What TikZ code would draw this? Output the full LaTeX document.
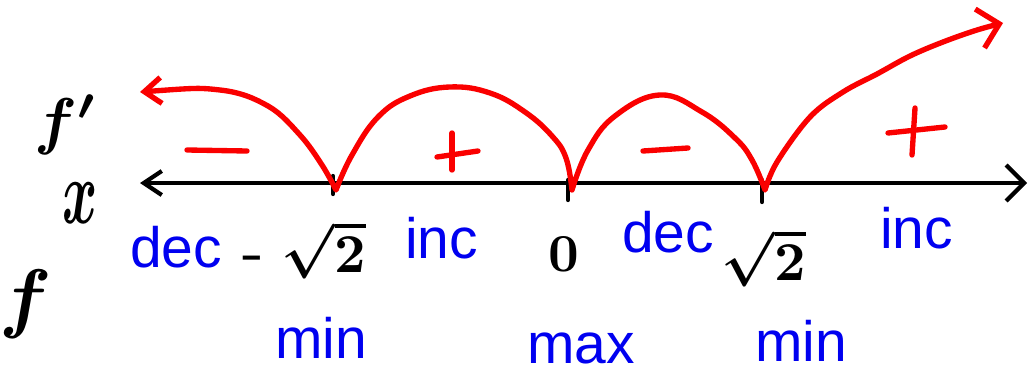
\documentclass[tikz,border=0pt]{standalone}
\usepackage{fontspec}
\setsansfont{Liberation Sans}
\usetikzlibrary{arrows.meta}
\definecolor{pred}{RGB}{250,0,0}
\definecolor{pblue}{RGB}{0,0,240}
\tikzset{
  redline/.style={draw=pred, line width=3.8pt, line cap=round, line join=round},
  axisline/.style={draw=black, line width=3pt, line cap=round, line join=round},
  lbl/.style={text=pblue, font=\sffamily\fontsize{40.5}{48}\selectfont, inner sep=0pt, anchor=base west, text depth=0pt},
  hand/.style={text=black, inner sep=0pt, font=\boldmath\bfseries},
}
\begin{document}
\begin{tikzpicture}[x=0.025cm,y=-0.025cm]
\useasboundingbox (0,0) rectangle (1029,374);
\fill[white] (0,0) rectangle (1029,374);
% axis
\coordinate (L) at (140,183);
\coordinate (R) at (1027,183);
\draw[axisline, {Straight Barb[length=0.45cm,width=0.6cm]}-{Straight Barb[length=0.45cm,width=0.9cm]}] (L) -- (R);
% ticks
\coordinate (t1a) at (333,176); \coordinate (t1b) at (333,194);
\coordinate (t2a) at (568,180); \coordinate (t2b) at (568,200);
\coordinate (t3a) at (762,180); \coordinate (t3b) at (762,202);
\draw[axisline] (t1a) -- (t1b);
\draw[axisline] (t2a) -- (t2b);
\draw[axisline] (t3a) -- (t3b);
% red curve of f'
\draw[redline, {Straight Barb[length=0.42cm,width=0.65cm]}-{Straight Barb[length=0.5cm,width=1.0cm]}]
  plot[smooth, tension=0.6] coordinates {(140,92) (220,90) (268,106) (300,135) (322,165) (336,190)}
  -- plot[smooth, tension=0.7] coordinates {(336,190) (352,155) (378,117) (410,96) (450,87) (490,93) (525,112) (552,136) (566,158) (572,190)}
  -- plot[smooth, tension=0.7] coordinates {(572,190) (588,150) (615,116) (660,95) (702,112) (735,138) (752,160) (765,190)}
  -- plot[smooth, tension=0.6] coordinates {(765,190) (777,162) (810,117) (843,92) (877,74) (910,56) (943,42) (977,30) (1003,23)};
% signs
\draw[redline] (187,150) -- (247,151);
\draw[redline] (437,157) -- (478,151);
\draw[redline] (452,133) -- (452,170);
\draw[redline] (643,151) -- (688,148);
\draw[redline] (888,133) -- (945,127);
\draw[redline] (915,108) -- (912,155);
% blue labels
\node[lbl] (dec1) at (130,267) {dec};
\node[lbl] (inc1) at (405,258) {inc};
\node[lbl] (min1) at (275,358) {min};
\node[lbl] (dec2) at (622,252) {dec};
\node[lbl] (inc2) at (880,248) {inc};
\node[lbl] (max)  at (527,363) {max};
\node[lbl] (min2) at (755,361) {min};
% black handwritten labels
\node[hand] (fp) at (66,125) {\scalebox{4.5}{$f'$}};
\node[hand] (xl) at (80,203) {\scalebox{3.8}[6.5]{$x$}};
\node[hand] (fl) at (26,304) {\scalebox{5.5}{$f$}};
\node[hand] (mn) at (253,262) {\scalebox{4}[3]{-}};
\node[hand] (s1) at (324,250) {\scalebox{3.9}{$\sqrt{2}$}};
\node[hand] (z0) at (564,254) {\scalebox{3.8}{0}};
\node[hand] (s2) at (764,258) {\scalebox{3.9}{$\sqrt{2}$}};
\end{tikzpicture}
\end{document}
